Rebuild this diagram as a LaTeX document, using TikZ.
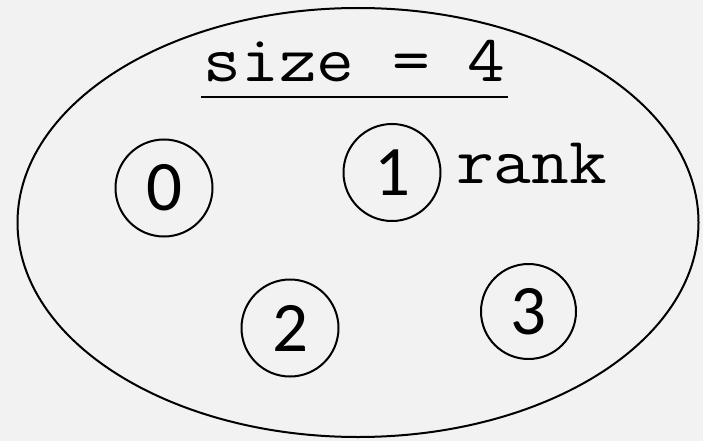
\documentclass[tikz,border=0pt]{standalone}
\usepackage{fontspec}
\usepackage{graphicx}
\newfontfamily\digitfont{Carlito}
\definecolor{bg}{HTML}{F2F2F2}
\newcommand{\montxt}[1]{\scalebox{1.11}[1]{#1}}
\begin{document}
\begin{tikzpicture}[x=1pt,y=-1pt,
  rankcircle/.style={circle,draw=black,line width=2pt,minimum size=97pt,inner sep=0pt,font=\digitfont\fontsize{71}{71}\selectfont},
  monotext/.style={inner sep=0pt,anchor=base,font=\ttfamily\fontsize{66}{66}\selectfont}]
\fill[bg] (0,0) rectangle (703,441);
\useasboundingbox (0,0) rectangle (703,441);
\draw[line width=2pt] (358,222.5) ellipse [x radius=340.5pt, y radius=214.5pt];
\node[monotext] (size) at (354.5,82) {\montxt{size = 4}};
\draw[line width=2.6pt] (201,97) -- (508,97);
\node[rankcircle] (r0) at (164,188) {0};
\node[rankcircle] (r1) at (392,172.5) {1};
\node[rankcircle] (r2) at (290,328) {2};
\node[rankcircle,minimum size=95pt] (r3) at (528.5,311.5) {3};
\node[monotext] (rank) at (531.5,183) {\montxt{rank}};
\end{tikzpicture}
\end{document}
